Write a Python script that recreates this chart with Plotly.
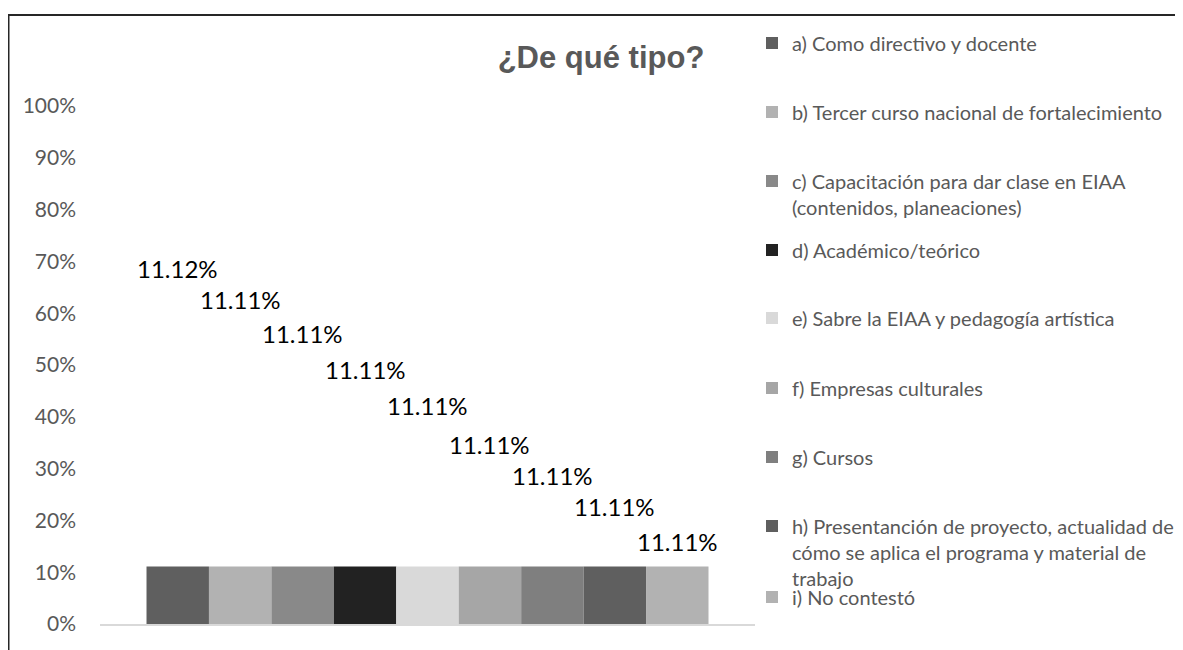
import plotly.graph_objects as go

# ---- data ----
categories = [
    "a) Como directivo y docente",
    "b) Tercer curso nacional de fortalecimiento",
    "c) Capacitación para dar clase en EIAA<br>(contenidos, planeaciones)",
    "d) Académico/teórico",
    "e) Sabre la EIAA y pedagogía artística",
    "f) Empresas culturales",
    "g) Cursos",
    "h) Presentanción de proyecto, actualidad de<br>cómo se aplica el programa y material de<br>trabajo",
    "i) No contestó",
]
values = [0.1112, 0.1111, 0.1111, 0.1111, 0.1111, 0.1111, 0.1111, 0.1111, 0.1111]
value_labels = ["11.12%", "11.11%", "11.11%", "11.11%", "11.11%", "11.11%", "11.11%", "11.11%", "11.11%"]
y_ticks = [0, 0.1, 0.2, 0.3, 0.4, 0.5, 0.6, 0.7, 0.8, 0.9, 1.0]
y_tick_labels = ["0%", "10%", "20%", "30%", "40%", "50%", "60%", "70%", "80%", "90%", "100%"]

# ---- styles / positions ----
colors = ["#5f5f5f", "#b2b2b2", "#898989", "#222222", "#d9d9d9",
          "#a6a6a6", "#7f7f7f", "#5f5f5f", "#b2b2b2"]
label_y = [0.686, 0.6255, 0.560, 0.492, 0.422, 0.3475, 0.2876, 0.2278, 0.160]
legend_line_y = [43, 112, 181, 250, 318, 388, 457, 526, 597]  # page px, first-line centre

OFF = 8  # page body margin
W, H = 1175, 642
ML, MR, MT, MB = 92, 428, 98, 26
PW, PH = W - ML - MR, H - MT - MB
BARGAP = 0.142
FONT = "Lato"
GREY = "#595959"

fig = go.Figure()
n = len(categories)
for i, (name, v, c) in enumerate(zip(categories, values, colors)):
    fig.add_trace(go.Bar(
        x=["Tipo"], y=[v], name=name,
        marker=dict(color=c, line=dict(width=0)),
        legend="legend" if i == 0 else f"legend{i+1}",
        hovertemplate="%{y:.2%}<extra>" + name + "</extra>",
    ))

group_w = 1 - BARGAP
annotations = []
for i, (txt, ly) in enumerate(zip(value_labels, label_y)):
    xpos = -group_w / 2 + (i + 0.5) * group_w / n
    annotations.append(dict(
        x=xpos, y=ly, xref="x", yref="y", text=txt, showarrow=False,
        xanchor="center", yanchor="middle",
        font=dict(family=FONT, size=24, color="#000000"),
    ))

layout_legends = {}
for i, ly in enumerate(legend_line_y):
    key = "legend" if i == 0 else f"legend{i+1}"
    layout_legends[key] = dict(
        x=(752 - OFF) / W, y=1 - (ly - OFF - 19.5) / H, xref="container", yref="container",
        xanchor="left", yanchor="top", valign="top",
        bgcolor="rgba(0,0,0,0)", borderwidth=0,
        font=dict(family=FONT, size=20, color=GREY),
        itemclick=False, itemdoubleclick=False,
    )

# chart frame (top and left edges visible in the picture)
fx = lambda px: (px - OFF - ML) / PW
fy = lambda py: (H - MB - (py - OFF)) / PH
shapes = [
    dict(type="line", xref="paper", yref="paper", x0=fx(7), x1=fx(W + 40),
         y0=fy(15), y1=fy(15), line=dict(color="#262626", width=2)),
    dict(type="line", xref="paper", yref="paper", x0=fx(8.5), x1=fx(8.5),
         y0=fy(14), y1=fy(H + 40), line=dict(color="#262626", width=2)),
]

fig.update_layout(
    width=W, height=H,
    margin=dict(l=ML, r=MR, t=MT, b=MB, autoexpand=False),
    paper_bgcolor="white", plot_bgcolor="white",
    barmode="group", bargap=BARGAP, bargroupgap=0,
    title=dict(text="<b>¿De qué tipo?</b>", x=(601 - OFF) / W, xref="container", xanchor="center",
               y=1 - (57 - OFF) / H, yref="container", yanchor="middle",
               font=dict(family="Liberation Sans", size=31, color=GREY)),
    xaxis=dict(showticklabels=False, showgrid=False, zeroline=False,
               showline=True, linecolor="#d9d9d9", linewidth=2, ticks=""),
    yaxis=dict(range=[0, 1.0], tickvals=y_ticks, ticktext=y_tick_labels,
               showgrid=False, zeroline=False, showline=False, ticks="",
               ticklabelstandoff=23,
               tickfont=dict(family=FONT, size=21, color=GREY)),
    annotations=annotations,
    shapes=shapes,
    showlegend=True,
    **layout_legends,
)

fig.write_html("out.html")
